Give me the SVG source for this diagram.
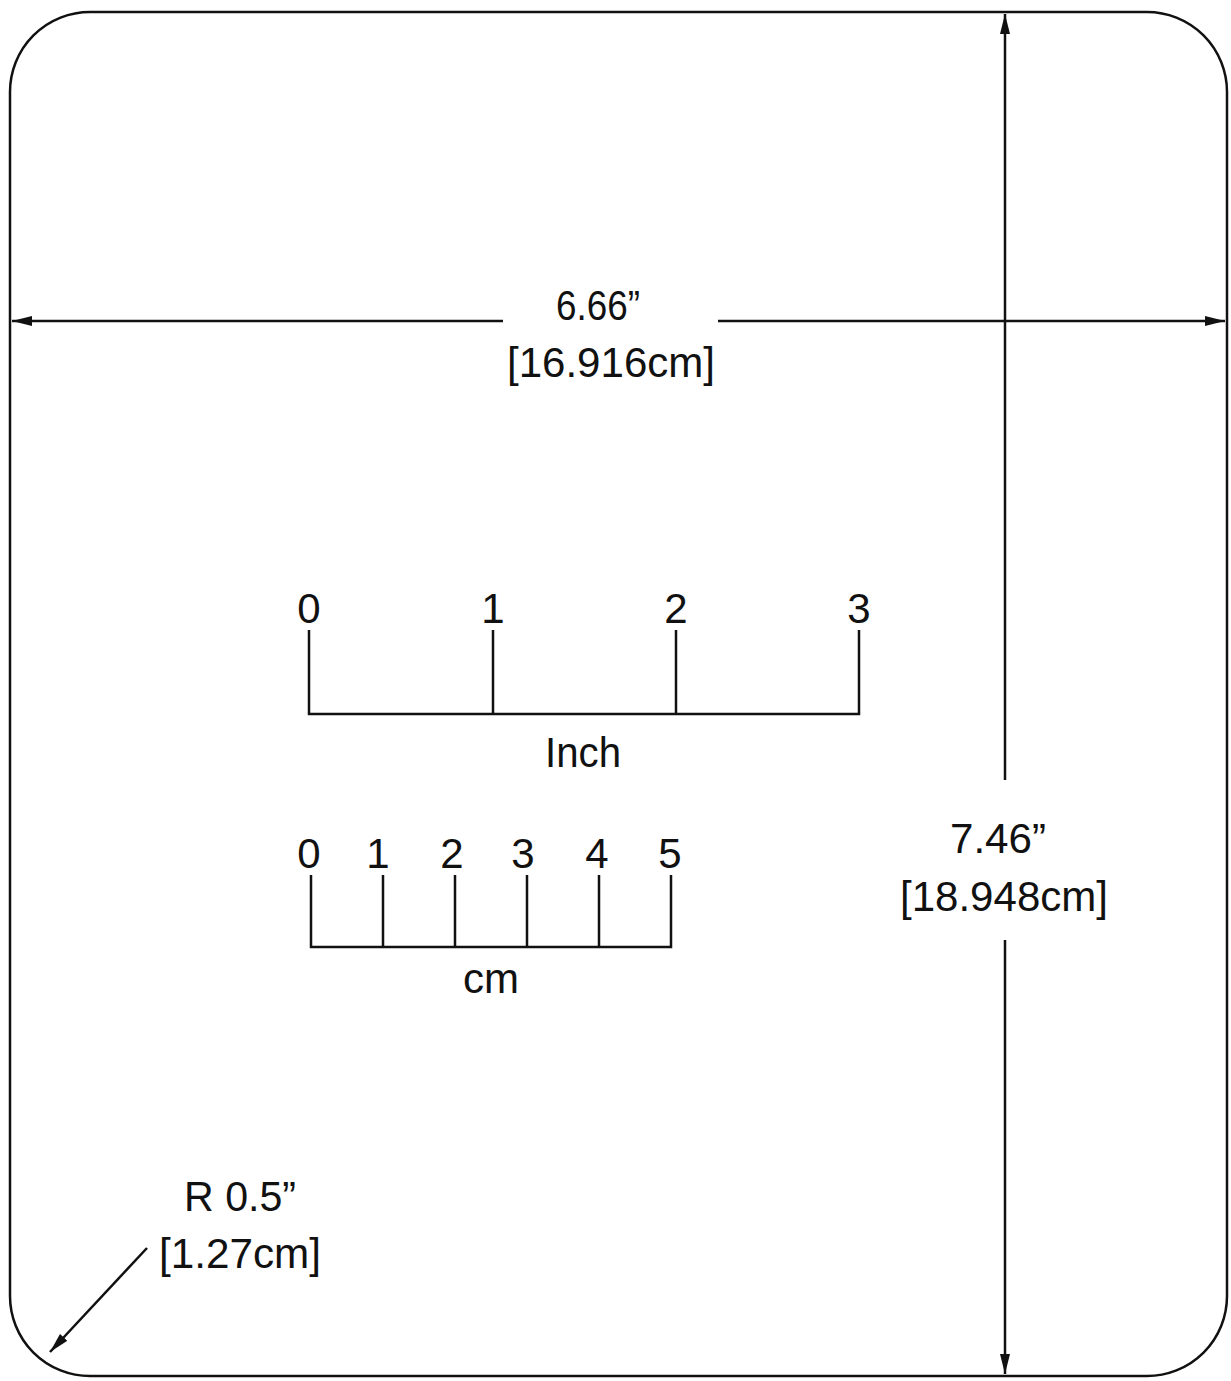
<svg xmlns="http://www.w3.org/2000/svg" width="1231" height="1381" viewBox="0 0 1231 1381">
<style>
.l{stroke:#111;stroke-width:2.5;fill:none}
.t{font-family:"Liberation Sans",Arial,sans-serif;font-size:42px;fill:#111;text-anchor:middle}
</style>
<defs>
<marker id="a" viewBox="0 0 20 10" refX="20" refY="5" markerWidth="20" markerHeight="10" markerUnits="userSpaceOnUse" orient="auto"><path d="M0,0 L20,5 L0,10 Z" fill="#111"/></marker>
</defs>
<rect width="1231" height="1381" fill="#fff"/>
<g id="outline"><rect x="10" y="12" width="1217" height="1364" rx="80" class="l" stroke-width="3"/></g>
<g id="connectors">
<line x1="503" y1="321" x2="12" y2="321" class="l" marker-end="url(#a)"/>
<line x1="718" y1="321" x2="1225" y2="321" class="l" marker-end="url(#a)"/>
<line x1="1005" y1="780" x2="1005" y2="14" class="l" marker-end="url(#a)"/>
<line x1="1005" y1="940" x2="1005" y2="1374" class="l" marker-end="url(#a)"/>
<line x1="147" y1="1248" x2="50" y2="1352" class="l" marker-end="url(#a)"/>
</g>
<g id="width-label"><text class="t" x="598" y="320" textLength="84" lengthAdjust="spacingAndGlyphs">6.66”</text><text class="t" x="611" y="377" textLength="208" lengthAdjust="spacingAndGlyphs">[16.916cm]</text></g>
<g id="height-label"><text class="t" x="998" y="853" textLength="96" lengthAdjust="spacingAndGlyphs">7.46”</text><text class="t" x="1004" y="911" textLength="208" lengthAdjust="spacingAndGlyphs">[18.948cm]</text></g>
<g id="radius-label"><text class="t" x="240" y="1211" textLength="112" lengthAdjust="spacingAndGlyphs">R 0.5”</text><text class="t" x="240" y="1268" textLength="162" lengthAdjust="spacingAndGlyphs">[1.27cm]</text></g>
<g id="inch-scale">
<path class="l" d="M309,630V714H859V630M493,630V714M676,630V714"/>
<text class="t" x="309" y="623">0</text><text class="t" x="493" y="623">1</text><text class="t" x="676" y="623">2</text><text class="t" x="859" y="623">3</text>
<text class="t" x="583" y="767" textLength="76" lengthAdjust="spacingAndGlyphs">Inch</text>
</g>
<g id="cm-scale">
<path class="l" d="M311,875V947H671V875M383,875V947M455,875V947M527,875V947M599,875V947"/>
<text class="t" x="309" y="868">0</text><text class="t" x="378" y="868">1</text><text class="t" x="452" y="868">2</text><text class="t" x="523" y="868">3</text><text class="t" x="597" y="868">4</text><text class="t" x="670" y="868">5</text>
<text class="t" x="491" y="993" textLength="56" lengthAdjust="spacingAndGlyphs">cm</text>
</g>
</svg>
